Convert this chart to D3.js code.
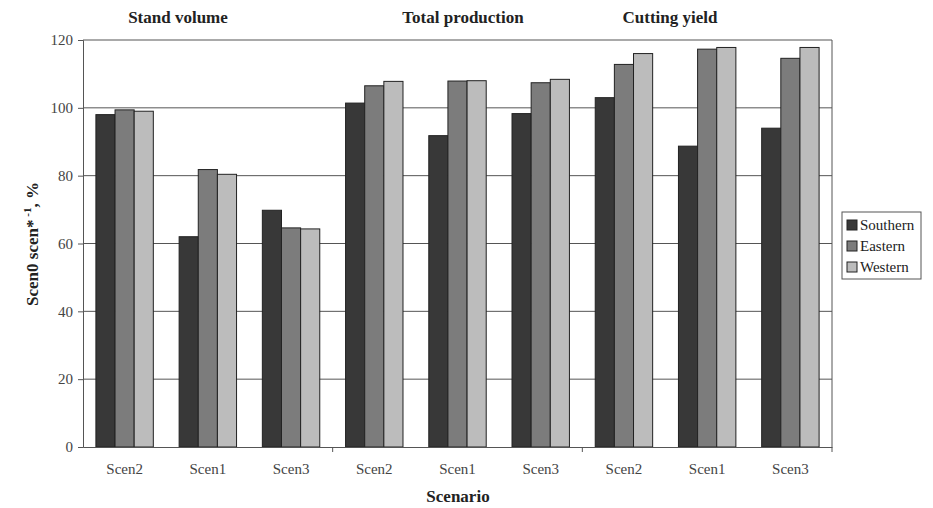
<!DOCTYPE html>
<html><head><meta charset="utf-8">
<script src="https://cdn.jsdelivr.net/npm/d3@7"></script>
<style>body{margin:0;background:#fff}svg{display:block}svg text{font-family:"Liberation Serif","Times New Roman",serif !important}</style>
</head><body><svg id="c" width="933" height="508"></svg>
<script>
const groups = ["Stand volume", "Total production", "Cutting yield"];
const scenarios = ["Scen2", "Scen1", "Scen3"];
const series = ["Southern", "Eastern", "Western"];
const southern = [98, 62, 69.8, 101.4, 91.8, 98.3, 103, 88.7, 94];
const eastern = [99.4, 81.8, 64.6, 106.5, 107.9, 107.4, 112.8, 117.3, 114.6];
const western = [99, 80.4, 64.3, 107.8, 108, 108.4, 116, 117.8, 117.8];
const yTicks = [0, 20, 40, 60, 80, 100, 120];
const colors = ["#383838", "#7c7c7c", "#bcbcbc"];
const FONT = "Liberation Serif, Times New Roman, serif";

const values = [southern, eastern, western];
const cats = [];
groups.forEach((g, gi) => scenarios.forEach((s, si) => cats.push({g: gi, label: s, i: gi * 3 + si})));

const svg = d3.select("#c").attr("font-family", FONT);
const L = 83, R = 832, T = 40, B = 447;
const x = d3.scaleBand().domain(cats.map(d => d.i)).range([L, R]).paddingInner(0.31).paddingOuter(0.155);
const xs = d3.scaleBand().domain(series).range([0, x.bandwidth()]);
const y = d3.scaleLinear().domain([0, 120]).range([B, T]);

// gridlines
svg.append("g").selectAll("line").data(yTicks.filter(t => t > 0)).join("line")
  .attr("x1", L).attr("x2", R).attr("y1", d => y(d)).attr("y2", d => y(d))
  .attr("stroke", "#555").attr("stroke-width", 1);
svg.append("line").attr("x1", R).attr("x2", R).attr("y1", T).attr("y2", B).attr("stroke", "#555");

// bars
const barG = svg.append("g");
cats.forEach(c => {
  series.forEach((s, k) => {
    const v = values[k][c.i];
    barG.append("rect")
      .attr("x", x(c.i) + xs(s)).attr("y", y(v))
      .attr("width", xs.bandwidth()).attr("height", y(0) - y(v))
      .attr("fill", colors[k]).attr("stroke", "#222").attr("stroke-width", 1);
  });
});

// y axis
const ya = svg.append("g").attr("transform", `translate(${L},0)`)
  .call(d3.axisLeft(y).tickValues(yTicks).tickSize(5).tickPadding(5));
ya.attr("font-family", FONT);
ya.select(".domain").attr("stroke", "#555");
ya.selectAll(".tick line").attr("stroke", "#555");
ya.selectAll("text").attr("font-size", 15).attr("fill", "#444").attr("font-family", FONT);

// x axis
const xa = svg.append("g").attr("transform", `translate(0,${B})`)
  .call(d3.axisBottom(x).tickSize(0).tickPadding(16).tickFormat(i => cats[i].label));
xa.attr("font-family", FONT);
xa.select(".domain").attr("stroke", "#555");
xa.selectAll("text").attr("font-size", 15).attr("fill", "#444").attr("font-family", FONT);
const sepX = [L + x.step() * 3, L + x.step() * 6, R];
svg.append("g").selectAll("line").data(sepX).join("line")
  .attr("x1", d => d).attr("x2", d => d).attr("y1", B).attr("y2", B + 5).attr("stroke", "#555");

// group titles
groups.forEach((g, gi) => {
  svg.append("text").attr("x", [178, 463, 670][gi]).attr("y", 23).attr("text-anchor", "middle")
    .attr("font-size", 17).attr("font-weight", "bold").attr("fill", "#222").text(g);
});

// axis titles
svg.append("text").attr("x", 458).attr("y", 502).attr("text-anchor", "middle")
  .attr("font-size", 17).attr("font-weight", "bold").attr("fill", "#222").text("Scenario");
const yt = svg.append("text").attr("transform", "translate(38,244) rotate(-90)").attr("text-anchor", "middle")
  .attr("font-size", 17).attr("font-weight", "bold").attr("fill", "#222");
yt.append("tspan").text("Scen0 scen*");
yt.append("tspan").attr("dy", -7).attr("font-size", 11).text(" -1");
yt.append("tspan").attr("dy", 7).text(", %");

// legend
const lg = svg.append("g").attr("transform", "translate(842,212)");
lg.append("rect").attr("width", 79).attr("height", 67).attr("fill", "#fff").attr("stroke", "#555");
series.forEach((s, k) => {
  const row = lg.append("g").attr("transform", `translate(5,${8 + k * 21})`);
  row.append("rect").attr("width", 10).attr("height", 10).attr("fill", colors[k]).attr("stroke", "#222");
  row.append("text").attr("x", 13).attr("y", 10).attr("font-size", 15).attr("fill", "#222").text(s);
});
</script></body></html>
